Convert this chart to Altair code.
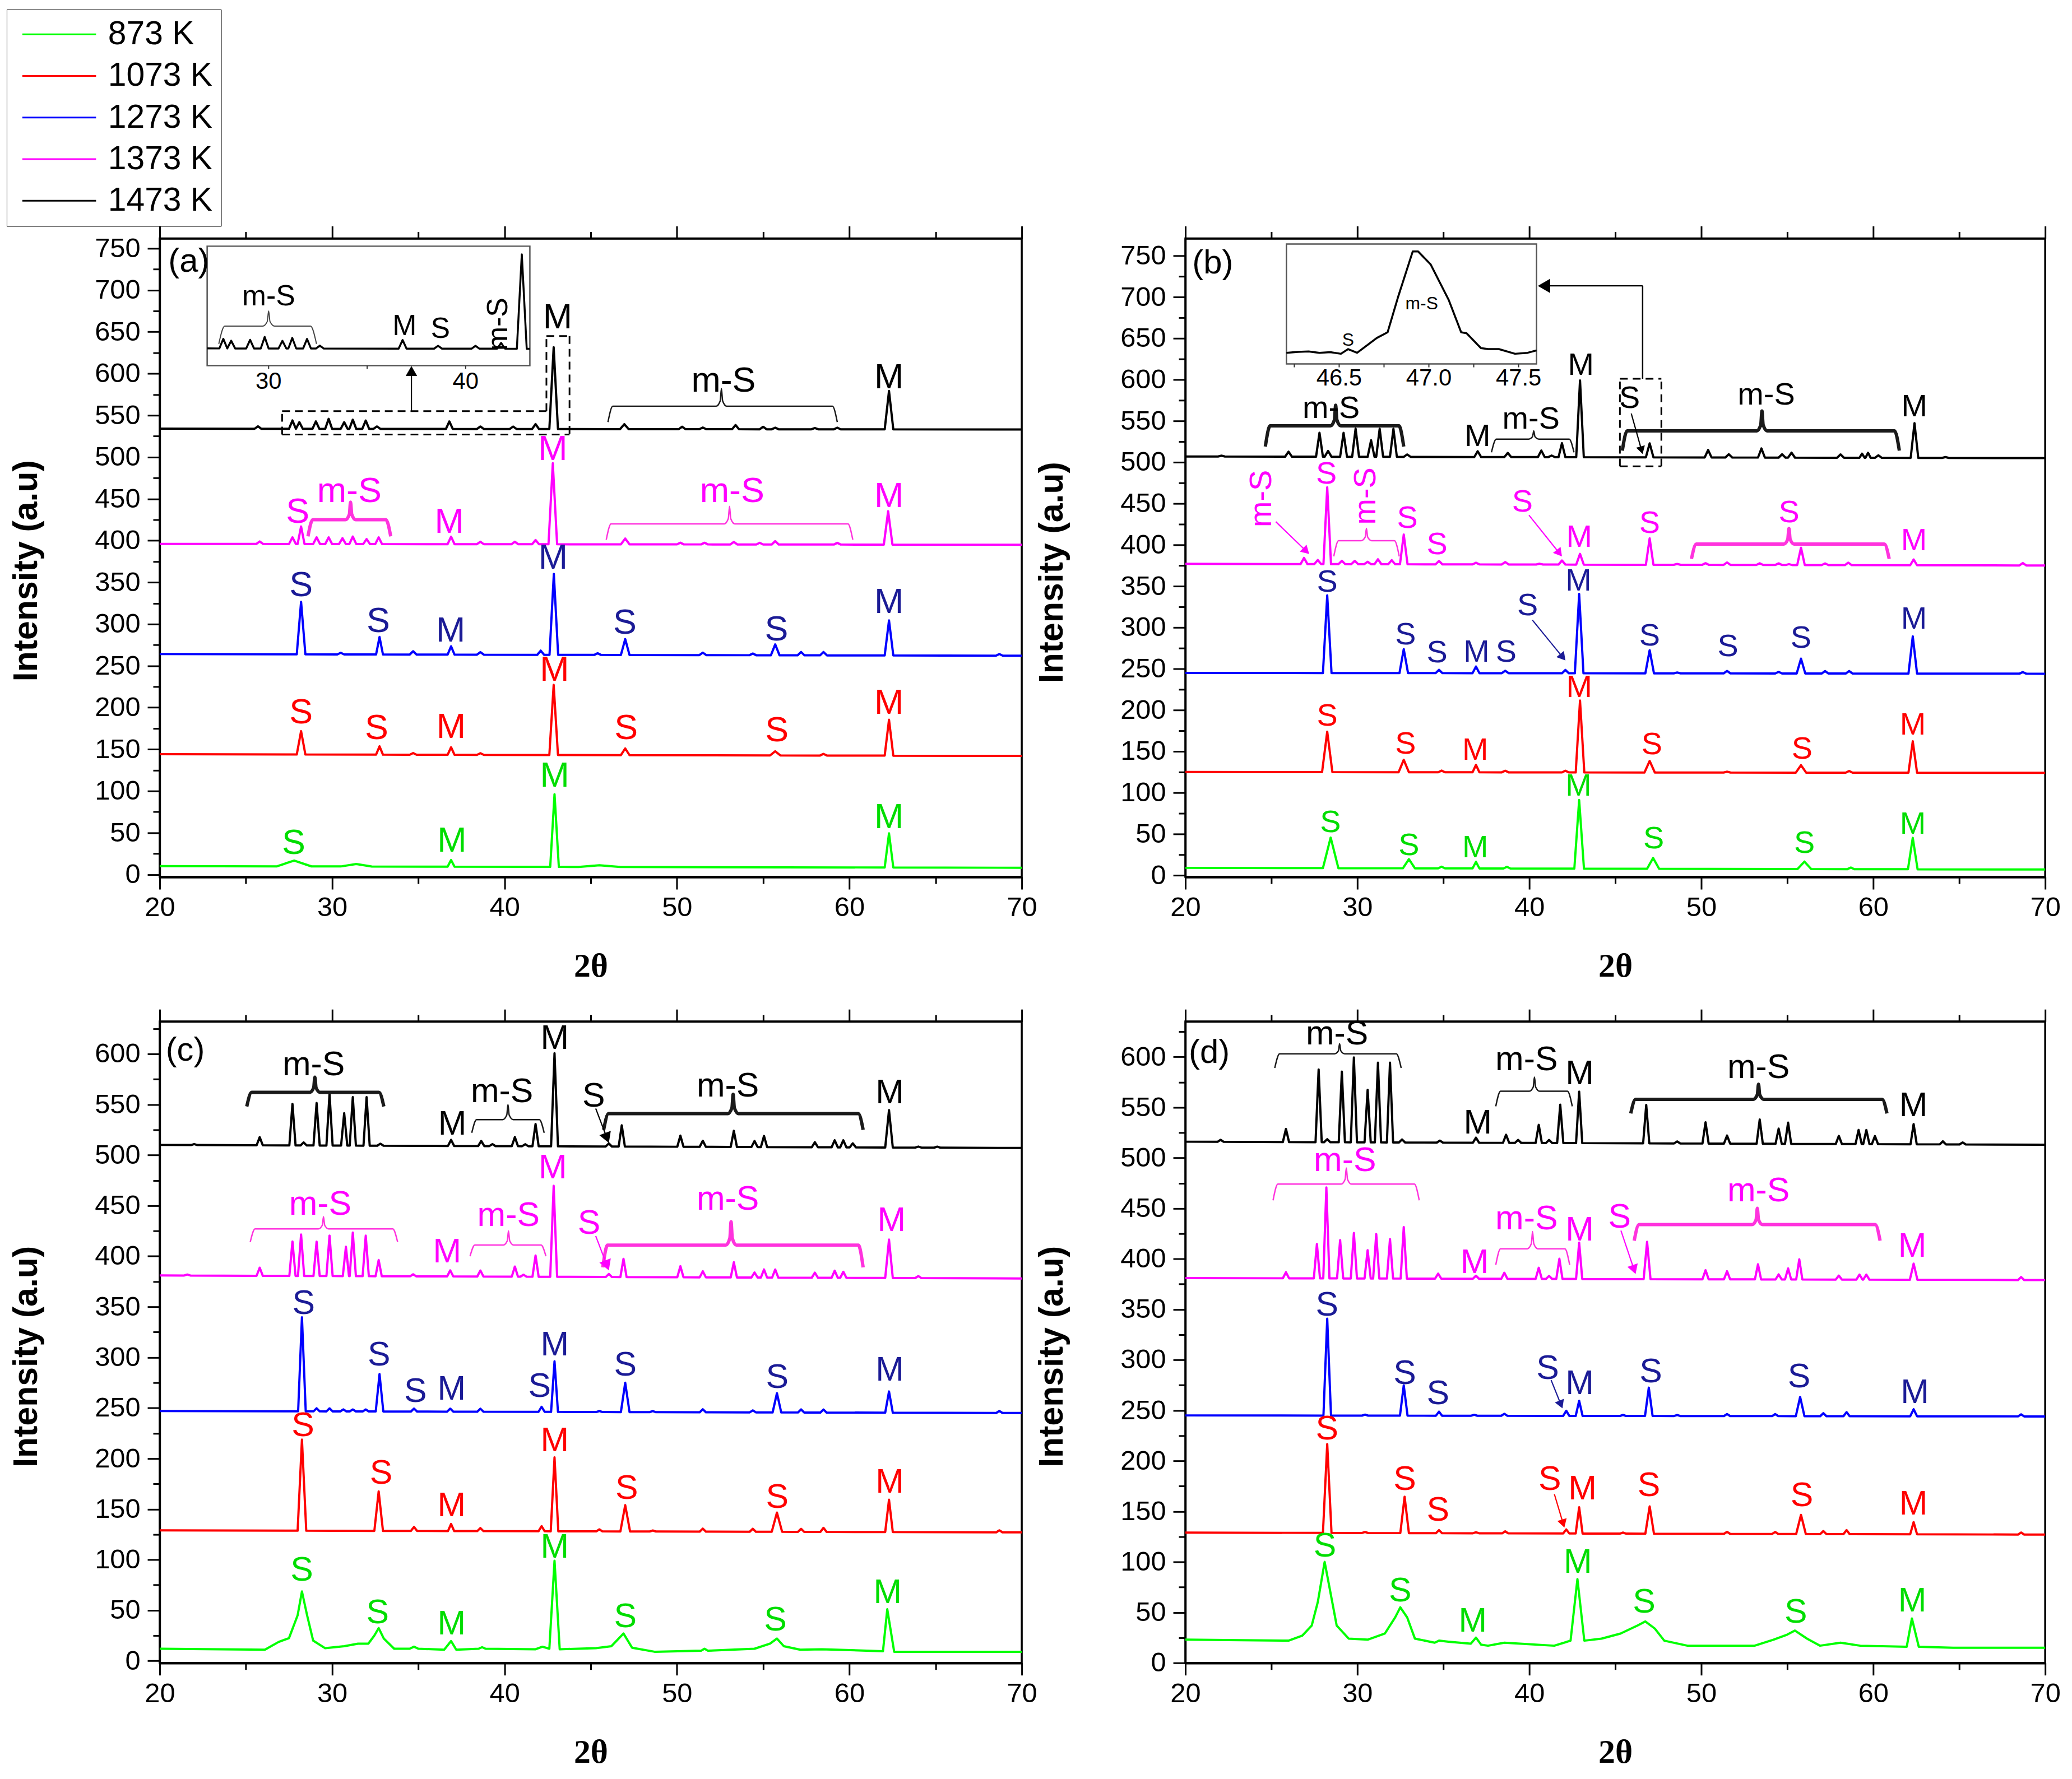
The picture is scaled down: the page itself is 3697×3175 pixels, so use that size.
import math
import altair as alt
import numpy as np
import pandas as pd

# ---------------------------------------------------------------- series / styles
SERIES = ["873 K", "1073 K", "1273 K", "1373 K", "1473 K"]
LINE_COLORS = ["#00ff00", "#ff0000", "#0000ff", "#ff00ff", "#000000"]
LABEL_COLORS = ["#00dd00", "#ff0000", "#1b1b96", "#ff00ff", "#000000"]
BRACE_COLORS = ["#00dd00", "#ff0000", "#1b1b96", "#ff33dd", "#1a1a1a"]

X_MAJOR = [20, 30, 40, 50, 60, 70]
X_MINOR = [25, 35, 45, 55, 65]
Y_MAJOR_AB = list(range(0, 751, 50))
Y_MINOR_AB = list(range(25, 751, 50))
Y_MAJOR_CD = list(range(0, 601, 50))
Y_MINOR_CD = list(range(25, 626, 50))

# ---------------------------------------------------------------- panel (a)
BASE_A = {
    "873 K": [(20, 10), (70, 8)],
    "1073 K": [(20, 144), (70, 142)],
    "1273 K": [(20, 264), (70, 262)],
    "1373 K": [(20, 396), (70, 395)],
    "1473 K": [(20, 534), (70, 533)],
}
PEAKS_A = {  # (2theta, height above baseline[, half width])
    "873 K": [(27.8, 7, 1.0), (31.4, 3, 0.9), (36.9, 8), (42.9, 87, 0.25), (45.5, 2, 1.2), (62.3, 41, 0.25)],
    "1073 K": [(28.2, 28, 0.25), (32.75, 10), (34.7, 2), (36.9, 9), (38.6, 2), (42.85, 84, 0.25),
               (47.0, 8, 0.25), (55.7, 5, 0.3), (58.5, 2), (62.3, 43, 0.25)],
    "1273 K": [(28.2, 63, 0.25), (30.5, 2), (32.75, 21), (34.7, 4), (36.9, 10), (38.6, 3), (42.1, 5),
               (42.86, 97, 0.25), (45.4, 2), (47.0, 19, 0.25), (51.5, 3), (54.4, 2), (55.7, 13, 0.25),
               (57.2, 4), (58.5, 4), (62.3, 42, 0.25), (68.7, 2)],
    "1373 K": [(25.8, 3), (27.7, 8), (28.2, 21), (29.1, 8), (29.8, 8), (30.6, 7), (31.2, 9), (32.0, 6),
               (32.7, 8), (36.9, 9), (38.6, 3), (40.6, 3), (41.8, 5), (42.8, 97, 0.25), (47.0, 7, 0.25),
               (50.2, 2), (51.6, 2), (53.3, 3), (54.8, 2), (55.7, 4), (59.3, 2), (62.25, 40, 0.25)],
    "1473 K": [(25.7, 3), (27.7, 10), (28.1, 8), (29.06, 9), (29.8, 12), (30.7, 8), (31.2, 11),
               (31.95, 10), (32.6, 3), (36.8, 9), (38.6, 3), (40.5, 3), (41.8, 6), (42.85, 98, 0.25),
               (46.95, 6, 0.25), (50.3, 3), (51.5, 2), (53.4, 5), (55.0, 3), (55.7, 2), (58.0, 1.5),
               (59.3, 2), (62.3, 46, 0.25)],
}
LABELS_A = [  # (text, 2theta, intensity, series index)
    ("S", 27.77, 37, 0), ("M", 36.95, 40, 0), ("M", 42.91, 118, 0), ("M", 62.3, 68, 0),
    ("S", 28.2, 194, 1), ("S", 32.58, 175, 1), ("M", 36.9, 176, 1), ("M", 42.9, 245, 1),
    ("S", 47.05, 175, 1), ("S", 55.8, 172, 1), ("M", 62.3, 205, 1),
    ("S", 28.2, 346, 2), ("S", 32.68, 303, 2), ("M", 36.88, 292, 2), ("M", 42.82, 379, 2),
    ("S", 46.98, 301, 2), ("S", 55.77, 293, 2), ("M", 62.3, 326, 2),
    ("S", 28.0, 434, 3), ("m-S", 31.0, 459, 3), ("M", 36.8, 422, 3), ("M", 42.8, 509, 3),
    ("m-S", 53.2, 459, 3), ("M", 62.3, 453, 3),
    ("M", 43.08, 667, 4), ("m-S", 52.7, 591, 4), ("M", 62.3, 595, 4),
]
BRACES_A = [  # (x0, x1, tip x, bar y, end y, tip y, series, thick)
    (28.6, 33.4, 31.07, 425, 405, 446, 3, True),
    (45.9, 60.2, 53.05, 420, 401, 441, 3, False),
    (46.0, 59.3, 52.58, 561, 542, 582, 4, False),
]
DASHES_A = [(27.1, 555, 42.43, 555), (27.1, 527, 43.77, 527), (27.1, 527, 27.1, 555),
            (42.43, 555, 42.43, 645), (42.43, 645, 43.77, 645), (43.77, 645, 43.77, 527)]
ARROWS_A = [(34.6, 555.5, 34.6, 609, 4, 420)]
INSET_A_LABELS = [("m-S", 30.0, 588), ("M", 36.9, 557), ("S", 38.72, 554)]
INSET_A_RLABELS = [("m-S", 41.67, 559)]
INSET_A_BRACE = (27.47, 32.43, 30.0, 557, 538.6, 572.8)
INSET_A_TICKS = [30, 35, 40]
INSET_A_TICKLABELS = [("30", 30), ("40", 40)]

# ---------------------------------------------------------------- panel (b)
BASE_B = {
    "873 K": [(20, 9), (70, 7)],
    "1073 K": [(20, 125), (70, 124)],
    "1273 K": [(20, 245), (70, 244)],
    "1373 K": [(20, 377), (70, 375)],
    "1473 K": [(20, 507), (70, 505)],
}
PEAKS_B = {
    "873 K": [(28.45, 37, 0.45), (33.0, 11, 0.35), (34.9, 2), (36.9, 8), (38.7, 2), (42.9, 83, 0.28),
              (47.2, 13, 0.35), (56.0, 9, 0.4), (58.7, 2), (62.3, 38, 0.28)],
    "1073 K": [(28.25, 49, 0.3), (32.7, 15, 0.3), (34.9, 2), (36.9, 9), (38.6, 2), (42.1, 2),
               (42.95, 87, 0.25), (47.0, 14, 0.3), (51.5, 1), (55.8, 9, 0.3), (58.6, 2), (62.3, 38, 0.25)],
    "1273 K": [(28.25, 94, 0.25), (32.7, 29, 0.25), (34.75, 4), (36.9, 8), (38.6, 3), (42.1, 4),
               (42.9, 96, 0.25), (47.0, 28, 0.25), (48.6, 1), (51.5, 3), (54.5, 2), (55.8, 18, 0.25),
               (57.2, 3), (58.6, 3), (62.3, 45, 0.25), (68.7, 2)],
    "1373 K": [(26.9, 7.5), (27.7, 5), (28.25, 93, 0.22), (29.1, 4), (29.85, 4), (30.6, 3), (31.2, 6),
               (32.0, 5), (32.7, 36, 0.22), (34.75, 4), (36.9, 2), (38.6, 3), (40.6, 1), (41.9, 5),
               (42.95, 13, 0.22), (47.0, 32, 0.22), (48.6, 1), (50.25, 2), (51.5, 3), (53.4, 2),
               (54.5, 2), (55.1, 1), (55.8, 21, 0.22), (57.2, 2), (58.55, 3), (62.35, 7), (68.7, 3)],
    "1473 K": [(22.1, 1), (26.0, 6), (27.8, 29), (28.3, 7), (29.2, 29), (29.9, 34), (30.8, 20),
               (31.3, 34), (32.1, 34), (32.9, 3), (37.0, 7), (38.75, 5), (40.7, 8), (41.3, 2),
               (41.9, 17), (42.95, 93, 0.22), (47.0, 17, 0.22), (50.4, 9), (51.6, 4), (53.5, 11),
               (54.7, 4), (55.25, 6), (58.1, 4), (59.35, 5, 0.15), (59.7, 6, 0.15), (60.3, 3),
               (62.4, 42, 0.22), (64.2, 1)],
}
LABELS_B = [
    ("S", 28.44, 64, 0), ("S", 33.0, 36, 0), ("M", 36.86, 33, 0), ("M", 42.86, 108, 0),
    ("S", 47.23, 44, 0), ("S", 56.0, 39, 0), ("M", 62.3, 62, 0),
    ("S", 28.25, 193, 1), ("S", 32.8, 159, 1), ("M", 36.86, 151, 1), ("M", 42.9, 227, 1),
    ("S", 47.13, 158, 1), ("S", 55.86, 153, 1), ("M", 62.3, 182, 1),
    ("S", 28.25, 355, 2), ("S", 32.8, 291, 2), ("S", 34.64, 269, 2), ("M", 36.93, 270, 2),
    ("S", 38.65, 270, 2), ("S", 39.9, 326, 2), ("M", 42.86, 356, 2), ("S", 47.0, 290, 2),
    ("S", 51.55, 277, 2), ("S", 55.8, 287, 2), ("M", 62.37, 310, 2),
    ("S", 28.2, 486, 3), ("S", 32.91, 432, 3), ("S", 34.64, 400, 3), ("S", 39.6, 452, 3),
    ("M", 42.9, 409, 3), ("S", 47.0, 426, 3), ("S", 55.1, 439, 3), ("M", 62.37, 405, 3),
    ("m-S", 28.48, 565, 4), ("M", 36.99, 531, 4), ("m-S", 40.1, 552, 4), ("M", 43.0, 617, 4),
    ("S", 45.83, 577, 4), ("m-S", 53.78, 581, 4), ("M", 62.39, 567, 4),
]
RLABELS_B = [("m-S", 24.45, 456, 3), ("m-S", 30.5, 459, 3)]
BRACES_B = [
    (24.65, 32.7, 28.74, 544, 519, 569, 4, True),
    (37.8, 42.6, 40.26, 528, 512, 538, 4, False),
    (45.41, 61.52, 53.53, 538, 514, 562, 4, True),
    (28.63, 32.44, 30.53, 405, 386, 420, 3, False),
    (49.43, 60.93, 55.1, 401, 383, 420, 3, True),
]
DASHES_B = [(45.27, 601, 47.68, 601), (45.27, 495, 47.68, 495), (45.27, 495, 45.27, 601),
            (47.68, 495, 47.68, 601)]
SOLIDS_B = [(46.59, 601, 46.59, 713.5)]
ARROWS_B = [
    (46.59, 713.5, 40.5, 713.5, 4, 650),
    (45.93, 559, 46.59, 510, 4, 260),
    (25.26, 428, 27.2, 389, 3, 300),
    (39.98, 436, 41.9, 386, 3, 300),
    (40.18, 309, 42.1, 260, 2, 300),
]
INSET_B_CURVE = [
    (46.206, 9.3), (46.27, 10.1), (46.33, 10.4), (46.39, 9.3), (46.45, 9.8), (46.51, 8.5),
    (46.55, 12.4), (46.60, 9.3), (46.71, 21.7), (46.77, 26.4), (46.83, 56.6), (46.91, 93.8),
    (46.94, 93.8), (47.01, 82.9), (47.11, 53.5), (47.18, 26.4), (47.21, 25.6), (47.29, 13.2),
    (47.33, 12.4), (47.39, 12.4), (47.48, 8.5), (47.55, 9.3), (47.6, 11.3),
]
INSET_B_LABELS = [("m-S", 46.96, 50), ("S", 46.55, 20)]
INSET_B_TICKS = [46.25, 46.5, 46.75, 47.0, 47.25, 47.5]
INSET_B_TICKLABELS = [("46.5", 46.5), ("47.0", 47.0), ("47.5", 47.5)]

# ---------------------------------------------------------------- panel (c)
GREEN_C = [
    (20, 12), (26.1, 11), (26.9, 18.7), (27.5, 22.5), (28.0, 45), (28.25, 68.6), (28.55, 45),
    (28.9, 20), (29.6, 12.5), (30.7, 14.5), (31.5, 17), (32.1, 17), (32.45, 25), (32.7, 32.4),
    (33.0, 22), (33.6, 12), (34.5, 12), (34.75, 14), (35.0, 12), (36.5, 11), (36.9, 19.6),
    (37.2, 11), (38.5, 12), (38.7, 13.5), (38.9, 12), (41.8, 11.5), (42.2, 14), (42.6, 12),
    (42.9, 99), (43.2, 11.5), (45.3, 12.5), (46.2, 14.5), (46.9, 27), (47.4, 13), (48.7, 9),
    (51.4, 10), (51.6, 12), (51.8, 10), (54.5, 12), (55.4, 17), (55.8, 22), (56.2, 14.5),
    (57.15, 11), (58.4, 11.5), (61.95, 9.5), (62.2, 51), (62.6, 9), (70, 9),
]
BASE_C = {
    "1073 K": [(20, 129), (70, 127)],
    "1273 K": [(20, 247), (70, 245)],
    "1373 K": [(20, 381), (70, 378)],
    "1473 K": [(20, 510), (70, 507)],
}
PEAKS_C = {
    "1073 K": [(28.25, 90, 0.25), (32.7, 39, 0.25), (34.75, 4), (36.9, 7), (38.6, 3), (42.15, 5),
               (42.9, 73, 0.22), (45.5, 2), (47.0, 26, 0.28), (48.6, 1), (51.5, 3), (54.4, 3),
               (55.8, 19, 0.3), (57.2, 3), (58.5, 4), (62.3, 32, 0.22), (68.7, 2)],
    "1273 K": [(28.25, 93, 0.22), (29.1, 3), (29.85, 3), (30.65, 2), (31.2, 2), (31.95, 2),
               (32.75, 37, 0.22), (34.75, 3), (36.85, 3), (38.6, 3), (42.15, 5), (42.9, 50, 0.2),
               (45.5, 1), (47.0, 29, 0.25), (48.6, 1), (51.5, 3), (54.4, 2), (55.8, 19, 0.25),
               (57.2, 3), (58.5, 3), (62.3, 21, 0.22), (68.7, 2)],
    "1373 K": [(21.6, 1), (25.8, 8), (27.7, 34), (28.2, 41), (29.1, 34), (29.85, 40), (30.8, 29),
               (31.2, 43), (31.95, 40), (32.7, 16), (34.7, 2), (36.85, 6), (38.6, 6), (40.6, 10),
               (41.1, 2), (41.8, 21), (42.85, 90, 0.2), (46.05, 3), (46.9, 18), (50.2, 11),
               (51.5, 6), (53.3, 15), (54.5, 5), (55.05, 8), (55.7, 8), (58.0, 5), (59.15, 7),
               (59.65, 6), (62.3, 38, 0.22), (64.0, 2)],
    "1473 K": [(22.0, 1), (25.8, 8), (27.7, 41), (28.35, 3), (29.1, 42), (29.85, 51), (30.7, 32),
               (31.2, 48), (32.0, 48), (32.8, 2), (36.9, 6), (38.65, 5), (39.3, 2), (40.6, 9),
               (41.2, 2), (41.8, 22), (42.9, 92, 0.2), (46.05, 3), (46.8, 21), (50.2, 11), (51.5, 6),
               (53.3, 16), (54.5, 6), (55.05, 11), (58.0, 5), (59.15, 7), (59.65, 7), (60.2, 4),
               (62.3, 37, 0.22), (64.0, 1), (65.1, 1)],
}
LABELS_C = [
    ("S", 28.24, 89, 0), ("S", 32.64, 47, 0), ("M", 36.93, 36, 0), ("M", 42.91, 112, 0),
    ("S", 47.01, 43, 0), ("S", 55.71, 40, 0), ("M", 62.22, 67, 0),
    ("S", 28.31, 232, 1), ("S", 32.84, 185, 1), ("M", 36.93, 153, 1), ("M", 42.91, 217, 1),
    ("S", 47.09, 170, 1), ("S", 55.82, 161, 1), ("M", 62.34, 176, 1),
    ("S", 28.35, 353, 2), ("S", 32.72, 302, 2), ("S", 34.83, 266, 2), ("M", 36.93, 268, 2),
    ("S", 42.03, 271, 2), ("M", 42.91, 312, 2), ("S", 47.01, 292, 2), ("S", 55.82, 280, 2),
    ("M", 62.34, 287, 2),
    ("m-S", 29.31, 451, 3), ("M", 36.67, 404, 3), ("m-S", 40.23, 440, 3), ("M", 42.8, 487, 3),
    ("S", 44.9, 432, 3), ("m-S", 52.95, 456, 3), ("M", 62.45, 435, 3),
    ("m-S", 28.93, 589, 4), ("M", 36.97, 530, 4), ("m-S", 39.85, 562, 4), ("M", 42.91, 615, 4),
    ("S", 45.17, 558, 4), ("m-S", 52.95, 568, 4), ("M", 62.34, 561, 4),
]
BRACES_C = [
    (25.05, 33.0, 29.0, 562, 548, 577, 4, True),
    (38.1, 42.3, 40.2, 535, 522, 550, 4, False),
    (45.75, 60.8, 53.26, 541, 525, 560, 4, True),
    (25.25, 33.8, 29.5, 427, 414, 439, 3, False),
    (38.0, 42.4, 40.23, 411, 400, 425, 3, False),
    (45.7, 60.8, 53.14, 411, 389, 434, 3, True),
]
ARROWS_C = [(45.29, 546, 46.05, 512, 4, 480), (45.29, 420, 46.05, 386, 3, 480)]

# ---------------------------------------------------------------- panel (d)
GREEN_D = [
    (20, 23), (26.0, 22), (26.8, 27), (27.35, 37), (27.7, 60), (28.1, 100), (28.4, 73), (28.8, 37),
    (29.5, 24), (30.6, 23), (31.6, 29), (32.2, 45), (32.5, 55), (32.9, 45), (33.35, 24),
    (34.5, 20), (34.75, 22), (35.3, 21), (36.6, 19), (36.9, 25), (37.2, 18), (37.6, 17),
    (38.55, 20), (41.45, 17), (42.4, 22), (42.8, 83), (43.2, 22), (44.2, 24), (45.3, 29),
    (46.3, 37), (46.75, 41), (47.3, 34), (47.85, 22), (49.2, 17), (53.1, 17), (54.2, 23),
    (55.0, 28), (55.45, 32), (56.15, 24), (56.9, 17), (58.1, 20), (59.25, 17), (61.95, 16),
    (62.25, 44), (62.65, 16), (64.65, 15), (70, 15),
]
BASE_D = {
    "1073 K": [(20, 129), (70, 127)],
    "1273 K": [(20, 245), (70, 244)],
    "1373 K": [(20, 381), (70, 379)],
    "1473 K": [(20, 516), (70, 513)],
}
PEAKS_D = {
    "1073 K": [(28.25, 88, 0.25), (30.45, 1), (32.75, 36, 0.25), (34.75, 3), (36.9, 1), (38.6, 2),
               (42.15, 4), (42.9, 26, 0.2), (45.45, 1), (47.0, 27, 0.25), (51.5, 2), (54.3, 2),
               (55.8, 19, 0.28), (57.1, 3), (58.45, 4), (62.35, 12, 0.2), (68.6, 2)],
    "1273 K": [(28.25, 96, 0.22), (30.45, 1), (32.7, 30, 0.22), (34.75, 4), (36.8, 1), (38.55, 2),
               (42.15, 5), (42.9, 15, 0.2), (45.45, 1), (46.95, 28, 0.22), (48.6, 1), (51.5, 2),
               (54.3, 2), (55.75, 19, 0.25), (57.1, 3), (58.45, 4), (62.35, 7, 0.2), (68.6, 2)],
    "1373 K": [(25.85, 6), (27.65, 34), (28.2, 90), (29.0, 38), (29.8, 45), (30.6, 28), (31.1, 44),
               (31.9, 39), (32.7, 51), (34.7, 5), (36.9, 3), (38.55, 6), (40.55, 11), (41.15, 3),
               (41.75, 20), (42.9, 36), (46.85, 37, 0.2), (50.25, 9), (51.5, 8), (53.3, 15),
               (54.5, 5), (55.05, 11), (55.7, 20), (58.0, 4), (59.2, 5), (59.6, 5),
               (62.35, 16, 0.22), (68.6, 3)],
    "1473 K": [(22.05, 2), (25.85, 13), (27.75, 72), (28.25, 3), (29.1, 70), (29.8, 84), (30.6, 52),
               (31.2, 79), (31.9, 79), (32.6, 3), (34.8, 2), (36.9, 5), (38.65, 8), (39.35, 3),
               (40.55, 18), (41.15, 3), (41.8, 38), (42.9, 51), (46.8, 38), (48.6, 2), (50.25, 21),
               (51.5, 8), (53.4, 24), (54.5, 15), (55.05, 21), (58.0, 8), (59.15, 14), (59.6, 14),
               (60.1, 8), (62.35, 20), (64.05, 3), (65.2, 2)],
}
LABELS_D = [
    ("S", 28.12, 115, 0), ("S", 32.49, 71, 0), ("M", 36.71, 41, 0), ("M", 42.82, 99, 0),
    ("S", 46.68, 60, 0), ("S", 55.5, 50, 0), ("M", 62.27, 61, 0),
    ("S", 28.24, 231, 1), ("S", 32.76, 181, 1), ("S", 34.69, 151, 1), ("S", 41.19, 181, 1),
    ("M", 43.09, 172, 1), ("S", 46.95, 175, 1), ("S", 55.85, 165, 1), ("M", 62.34, 157, 1),
    ("S", 28.24, 354, 2), ("S", 32.76, 286, 2), ("S", 34.69, 266, 2), ("S", 41.07, 291, 2),
    ("M", 42.93, 276, 2), ("S", 47.07, 288, 2), ("S", 55.69, 283, 2), ("M", 62.42, 267, 2),
    ("m-S", 29.28, 497, 3), ("M", 36.82, 396, 3), ("m-S", 39.84, 439, 3), ("M", 42.93, 428, 3),
    ("S", 45.25, 441, 3), ("m-S", 53.33, 467, 3), ("M", 62.27, 412, 3),
    ("m-S", 28.82, 622, 4), ("M", 37.01, 534, 4), ("m-S", 39.84, 597, 4), ("M", 42.93, 583, 4),
    ("m-S", 53.33, 589, 4), ("M", 62.34, 551, 4),
]
BRACES_D = [
    (25.2, 32.55, 28.97, 603, 589, 613, 4, False),
    (38.05, 42.5, 40.3, 566, 551, 580, 4, False),
    (45.9, 60.8, 53.33, 558, 544, 573, 4, True),
    (25.1, 33.6, 29.36, 474, 458, 490, 3, False),
    (38.05, 42.35, 40.19, 410, 394, 427, 3, False),
    (46.1, 60.4, 53.26, 434, 418, 450, 3, True),
]
ARROWS_D = [(45.33, 428, 46.18, 385, 3, 380), (41.46, 167, 42.04, 134, 1, 300),
            (41.27, 280, 41.93, 252, 2, 300)]

TAGS = {"a": ("(a)", 20.5, 734), "b": ("(b)", 20.4, 741), "c": ("(c)", 20.35, 603), "d": ("(d)", 20.2, 604)}

# ---------------------------------------------------------------- fonts
SANS = "Liberation Sans, Arial, sans-serif"
SERIF = "Liberation Serif, Times New Roman, serif"


def line_points(base, peaks, w0=0.2):
    bx = [p[0] for p in base]
    by = [p[1] for p in base]
    pts = [(float(x), float(y)) for x, y in base]
    for pk in peaks:
        x, h = pk[0], pk[1]
        w = pk[2] if len(pk) > 2 else w0
        pts.append((x - w, float(np.interp(x - w, bx, by))))
        pts.append((x, float(np.interp(x, bx, by)) + h))
        pts.append((x + w, float(np.interp(x + w, bx, by))))
    pts.sort(key=lambda p: p[0])
    return pts


def brace_path(x0, x1, xc, yb, ye, yt, e=0.28, t=0.3):
    ym = yb + 0.3 * (yt - yb)
    return [(x0, ye), (x0 + e, yb), (xc - t, yb), (xc - 0.07, ym), (xc, yt),
            (xc + 0.07, ym), (xc + t, yb), (x1 - e, yb), (x1, ye)]


def clip_curve(pts, lo, hi):
    xs_ = [p[0] for p in pts]
    ys_ = [p[1] for p in pts]
    out = [(lo, float(np.interp(lo, xs_, ys_)))]
    out += [p for p in pts if lo < p[0] < hi]
    out.append((hi, float(np.interp(hi, xs_, ys_))))
    return out


def tick_layer(ch, xs, ys, xdom, ydom, orient, values, size, domain=False):
    ax = alt.Axis(orient=orient, values=values, tickSize=size, tickWidth=3, tickColor="black",
                  labels=False, domain=domain, domainWidth=3.5, domainColor="black",
                  grid=False, title=None)
    if ch == "x":
        df = pd.DataFrame({"x": [xdom[0], xdom[1]], "y": [ydom[0], ydom[0]]})
        enc = dict(x=alt.X("x:Q", scale=xs, axis=ax), y=alt.Y("y:Q", scale=ys, axis=None))
    else:
        df = pd.DataFrame({"x": [xdom[0], xdom[0]], "y": [ydom[0], ydom[1]]})
        enc = dict(x=alt.X("x:Q", scale=xs, axis=None), y=alt.Y("y:Q", scale=ys, axis=ax))
    return alt.Chart(df).mark_point(opacity=0).encode(**enc)


def build_panel(W, H, ydom, ymajor, yminor, series_pts, labels, rlabels, braces, arrows,
                dashes, solids, tag, fs, title_y, legend, inset=None):
    xdom = [20, 70]
    xs = alt.Scale(domain=xdom, nice=False, zero=False)
    ys = alt.Scale(domain=ydom, nice=False, zero=False)
    xax = alt.Axis(orient="bottom", values=X_MAJOR, tickSize=22, tickWidth=3, tickColor="black",
                   labelFont=SANS, labelFontSize=49, labelPadding=9, labelFlush=False,
                   labelOverlap=False, labelColor="black", domainWidth=4.5, domainColor="black",
                   title="2θ", titleFont=SERIF, titleFontSize=60, titleFontWeight="bold",
                   titleY=160, titleBaseline="middle", titleColor="black", grid=False)
    yax = alt.Axis(orient="left", values=ymajor, tickSize=22, tickWidth=3, tickColor="black",
                   labelFont=SANS, labelFontSize=49, labelPadding=13, labelOverlap=False,
                   labelColor="black", domainWidth=3.5, domainColor="black",
                   title="Intensity (a.u)", titleFont=SANS, titleFontSize=61, titleFontWeight="bold",
                   titleAngle=270, titleX=-238, titleY=title_y, titleAlign="center",
                   titleBaseline="middle", titleColor="black", grid=False)

    def X(f="x"):
        return alt.X(f"{f}:Q", scale=xs, axis=None)

    def Y(f="y"):
        return alt.Y(f"{f}:Q", scale=ys, axis=None)

    ppx = W / 50.0
    ppy = H / float(ydom[1] - ydom[0])

    rows = []
    for s in SERIES:
        for i, (x, y) in enumerate(series_pts[s]):
            rows.append({"x": x, "y": y, "series": s, "i": i})
    color = alt.Color("series:N", scale=alt.Scale(domain=SERIES, range=LINE_COLORS), legend=legend)
    layers = [alt.Chart(pd.DataFrame(rows)).mark_line(strokeWidth=4, strokeJoin="round")
              .encode(x=alt.X("x:Q", scale=xs, axis=xax), y=alt.Y("y:Q", scale=ys, axis=yax),
                      color=color, order="i:Q"),
              tick_layer("x", xs, ys, xdom, ydom, "bottom", X_MINOR, 12),
              tick_layer("x", xs, ys, xdom, ydom, "top", X_MAJOR, 22, domain=True),
              tick_layer("x", xs, ys, xdom, ydom, "top", X_MINOR, 12),
              tick_layer("y", xs, ys, xdom, ydom, "left", yminor, 12)]

    brows = []
    for bid, (x0, x1, xc, yb, ye, yt, s, thick) in enumerate(braces):
        for k, (x, y) in enumerate(brace_path(x0, x1, xc, yb, ye, yt)):
            brows.append({"x": x, "y": y, "b": bid, "k": k, "c": BRACE_COLORS[s],
                          "w": 6.0 if thick else 2.5})
    lrows = [{"t": t, "x": x, "y": y, "c": LABEL_COLORS[s]} for t, x, y, s in labels]
    rrows = [{"t": t, "x": x, "y": y, "c": LABEL_COLORS[s]} for t, x, y, s in rlabels]
    segs_d = [{"x": a, "y": b, "x2": c, "y2": d} for a, b, c, d in dashes]
    segs_s = [{"x": a, "y": b, "x2": c, "y2": d, "c": "#000000", "w": 2.5} for a, b, c, d in solids]
    heads = []
    for (x1, y1, x2, y2, s, size) in arrows:
        dxp = (x2 - x1) * ppx
        dyp = (y2 - y1) * ppy
        L = math.hypot(dxp, dyp)
        ux, uy = dxp / L, dyp / L
        back = math.sqrt(size) * 0.43
        hx, hy = x2 - ux * back / ppx, y2 - uy * back / ppy
        ang = math.degrees(math.atan2(dxp, dyp)) % 360
        c = LABEL_COLORS[s]
        segs_s.append({"x": x1, "y": y1, "x2": hx, "y2": hy, "c": c, "w": 2.2})
        heads.append({"x": hx, "y": hy, "a": ang, "s": size, "c": c})

    layers.append(alt.Chart(pd.DataFrame(brows)).mark_line(interpolate="monotone")
                  .encode(x=X(), y=Y(), detail="b:N", order="k:Q",
                          stroke=alt.Stroke("c:N", scale=None),
                          strokeWidth=alt.StrokeWidth("w:Q", scale=None)))

    # inset: drawn in the panel's coordinates through a linear inset mapping
    if inset is not None:
        (ix0, ix1), (iy0, iy1) = inset["xdom"], inset["ydom"]
        (px0, px1), (py0, py1) = inset["xr"], inset["yr"]

        def fx(v):
            return 20 + (px0 + (v - ix0) * (px1 - px0) / (ix1 - ix0)) / ppx

        def fy(v):
            return ydom[1] - (py0 + (v - iy0) * (py1 - py0) / (iy1 - iy0)) / ppy

        frame = [{"x": fx(ix0), "x2": fx(ix1), "y": fy(iy0), "y2": fy(iy1)}]
        irows = [{"x": fx(x), "y": fy(y), "i": i} for i, (x, y) in enumerate(inset["curve"])]
        iticks = [{"x": fx(v), "y": fy(iy0), "x2": fx(v), "y2": fy(iy0) - 6 / ppy} for v in inset["ticks"]]
        itl = [{"t": t, "x": fx(v), "y": fy(iy0) - inset["tdy"] / ppy} for t, v in inset["ticklabels"]]
        ilabels = [{"t": t, "x": fx(x), "y": fy(y)} for t, x, y in inset["labels"]]
        layers.append(alt.Chart(pd.DataFrame(frame)).mark_rect(fill="white", stroke="#555555",
                                                               strokeWidth=2.5)
                      .encode(x=X(), x2="x2:Q", y=Y(), y2="y2:Q"))
        layers.append(alt.Chart(pd.DataFrame(irows)).mark_line(color="black", strokeWidth=3.5,
                                                               strokeJoin="round")
                      .encode(x=X(), y=Y(), order="i:Q"))
        layers.append(alt.Chart(pd.DataFrame(iticks)).mark_rule(color="#333333", strokeWidth=2)
                      .encode(x=X(), y=Y(), x2="x2:Q", y2="y2:Q"))
        layers.append(alt.Chart(pd.DataFrame(itl)).mark_text(font=SANS, fontSize=inset["tfs"],
                                                             color="black", align="center",
                                                             baseline="middle")
                      .encode(x=X(), y=Y(), text="t:N"))
        layers.append(alt.Chart(pd.DataFrame(ilabels)).mark_text(font=SANS, fontSize=inset["fs"],
                                                                 color="black", align="center",
                                                                 baseline="middle")
                      .encode(x=X(), y=Y(), text="t:N"))
        if inset.get("brace"):
            ib = [{"x": fx(x), "y": fy(y), "k": k}
                  for k, (x, y) in enumerate(brace_path(*inset["brace"], e=0.3, t=0.3))]
            layers.append(alt.Chart(pd.DataFrame(ib)).mark_line(interpolate="monotone",
                                                                color="#444444", strokeWidth=2)
                          .encode(x=X(), y=Y(), order="k:Q"))
        if inset.get("rlabels"):
            irl = [{"t": t, "x": fx(x), "y": fy(y)} for t, x, y in inset["rlabels"]]
            layers.append(alt.Chart(pd.DataFrame(irl)).mark_text(
                font=SANS, fontSize=inset["fs"], color="black", align="center",
                baseline="middle", angle=270).encode(x=X(), y=Y(), text="t:N"))

    layers.append(alt.Chart(pd.DataFrame(lrows)).mark_text(font=SANS, fontSize=fs, align="center",
                                                           baseline="middle")
                  .encode(x=X(), y=Y(), text="t:N", fill=alt.Fill("c:N", scale=None)))
    if rrows:
        layers.append(alt.Chart(pd.DataFrame(rrows)).mark_text(font=SANS, fontSize=fs,
                                                               align="center", baseline="middle",
                                                               angle=270)
                      .encode(x=X(), y=Y(), text="t:N", fill=alt.Fill("c:N", scale=None)))
    if segs_d:
        layers.append(alt.Chart(pd.DataFrame(segs_d)).mark_rule(color="black", strokeWidth=3,
                                                                strokeDash=[14, 9])
                      .encode(x=X(), y=Y(), x2="x2:Q", y2="y2:Q"))
    if segs_s:
        layers.append(alt.Chart(pd.DataFrame(segs_s)).mark_rule()
                      .encode(x=X(), y=Y(), x2="x2:Q", y2="y2:Q",
                              stroke=alt.Stroke("c:N", scale=None),
                              strokeWidth=alt.StrokeWidth("w:Q", scale=None)))
    if heads:
        layers.append(alt.Chart(pd.DataFrame(heads)).mark_point(shape="triangle-up", filled=True,
                                                                opacity=1)
                      .encode(x=X(), y=Y(), angle=alt.Angle("a:Q", scale=None),
                              size=alt.Size("s:Q", scale=None), fill=alt.Fill("c:N", scale=None)))
    tdf = pd.DataFrame([{"t": tag[0], "x": tag[1], "y": tag[2]}])
    layers.append(alt.Chart(tdf).mark_text(font=SANS, fontSize=60, align="left", baseline="middle",
                                           color="black")
                  .encode(x=X(), y=Y(), text="t:N"))
    return (alt.layer(*layers)
            .resolve_axis(x="independent", y="independent")
            .properties(width=W, height=H))


# ---------------------------------------------------------------- series point tables
pts_a = {s: line_points(BASE_A[s], PEAKS_A[s]) for s in SERIES}
pts_b = {s: line_points(BASE_B[s], PEAKS_B[s]) for s in SERIES}
pts_c = {"873 K": GREEN_C}
pts_c.update({s: line_points(BASE_C[s], PEAKS_C[s], 0.18) for s in SERIES[1:]})
pts_d = {"873 K": GREEN_D}
pts_d.update({s: line_points(BASE_D[s], PEAKS_D[s], 0.18) for s in SERIES[1:]})

W1, W2, H1, H2 = 1544, 1540, 1144, 1149

inset_a = dict(xdom=[26.88, 43.26], ydom=[516, 640], xr=[85, 663], yr=[228, 14],
               ticks=INSET_A_TICKS, ticklabels=INSET_A_TICKLABELS, tfs=42, tdy=29,
               curve=clip_curve(pts_a["1473 K"], 26.88, 43.26), labels=INSET_A_LABELS,
               rlabels=INSET_A_RLABELS, brace=INSET_A_BRACE, fs=52)
inset_b = dict(xdom=[46.206, 47.6], ydom=[0, 100], xr=[181, 629], yr=[225, 10],
               ticks=INSET_B_TICKS, ticklabels=INSET_B_TICKLABELS, tfs=42, tdy=26,
               curve=INSET_B_CURVE, labels=INSET_B_LABELS, rlabels=None, brace=None, fs=32)

legend = alt.Legend(orient="none", legendX=-274, legendY=-410, title=None,
                    symbolType="M-2.4,0H2.4", symbolSize=3025, symbolStrokeWidth=3,
                    symbolOffset=49.5, labelFont=SANS, labelFontSize=59, labelOffset=58,
                    labelColor="black", labelLimit=0, rowPadding=14.5, padding=15,
                    strokeColor="black", fillColor="white")

pa = build_panel(W1, H1, [-3, 762], Y_MAJOR_AB, Y_MINOR_AB, pts_a, LABELS_A, [], BRACES_A, ARROWS_A,
                 DASHES_A, [], TAGS["a"], 63, 595, legend, inset_a)
pb = build_panel(W2, H1, [-2, 771], Y_MAJOR_AB, Y_MINOR_AB, pts_b, LABELS_B, RLABELS_B, BRACES_B,
                 ARROWS_B, DASHES_B, SOLIDS_B, TAGS["b"], 56, 598, None, inset_b)
pc = build_panel(W1, H2, [-2, 632], Y_MAJOR_CD, Y_MINOR_CD, pts_c, LABELS_C, [], BRACES_C, ARROWS_C,
                 [], [], TAGS["c"], 61, 600, None)
pd_ = build_panel(W2, H2, [0, 635], Y_MAJOR_CD, Y_MINOR_CD, pts_d, LABELS_D, [], BRACES_D, ARROWS_D,
                  [], [], TAGS["d"], 61, 600, None)

chart = alt.concat(pa, pb, pc, pd_, columns=2,
                   spacing=alt.RowColnumber(row=259, column=293)).properties(
    bounds="flush", align="each",
    padding={"left": 1, "top": 0, "right": 10, "bottom": 8}, background="white",
).resolve_scale(color="independent").configure_view(stroke="black", strokeWidth=3.5)

chart.save("out.html", embed_options={"renderer": "svg", "actions": False})
